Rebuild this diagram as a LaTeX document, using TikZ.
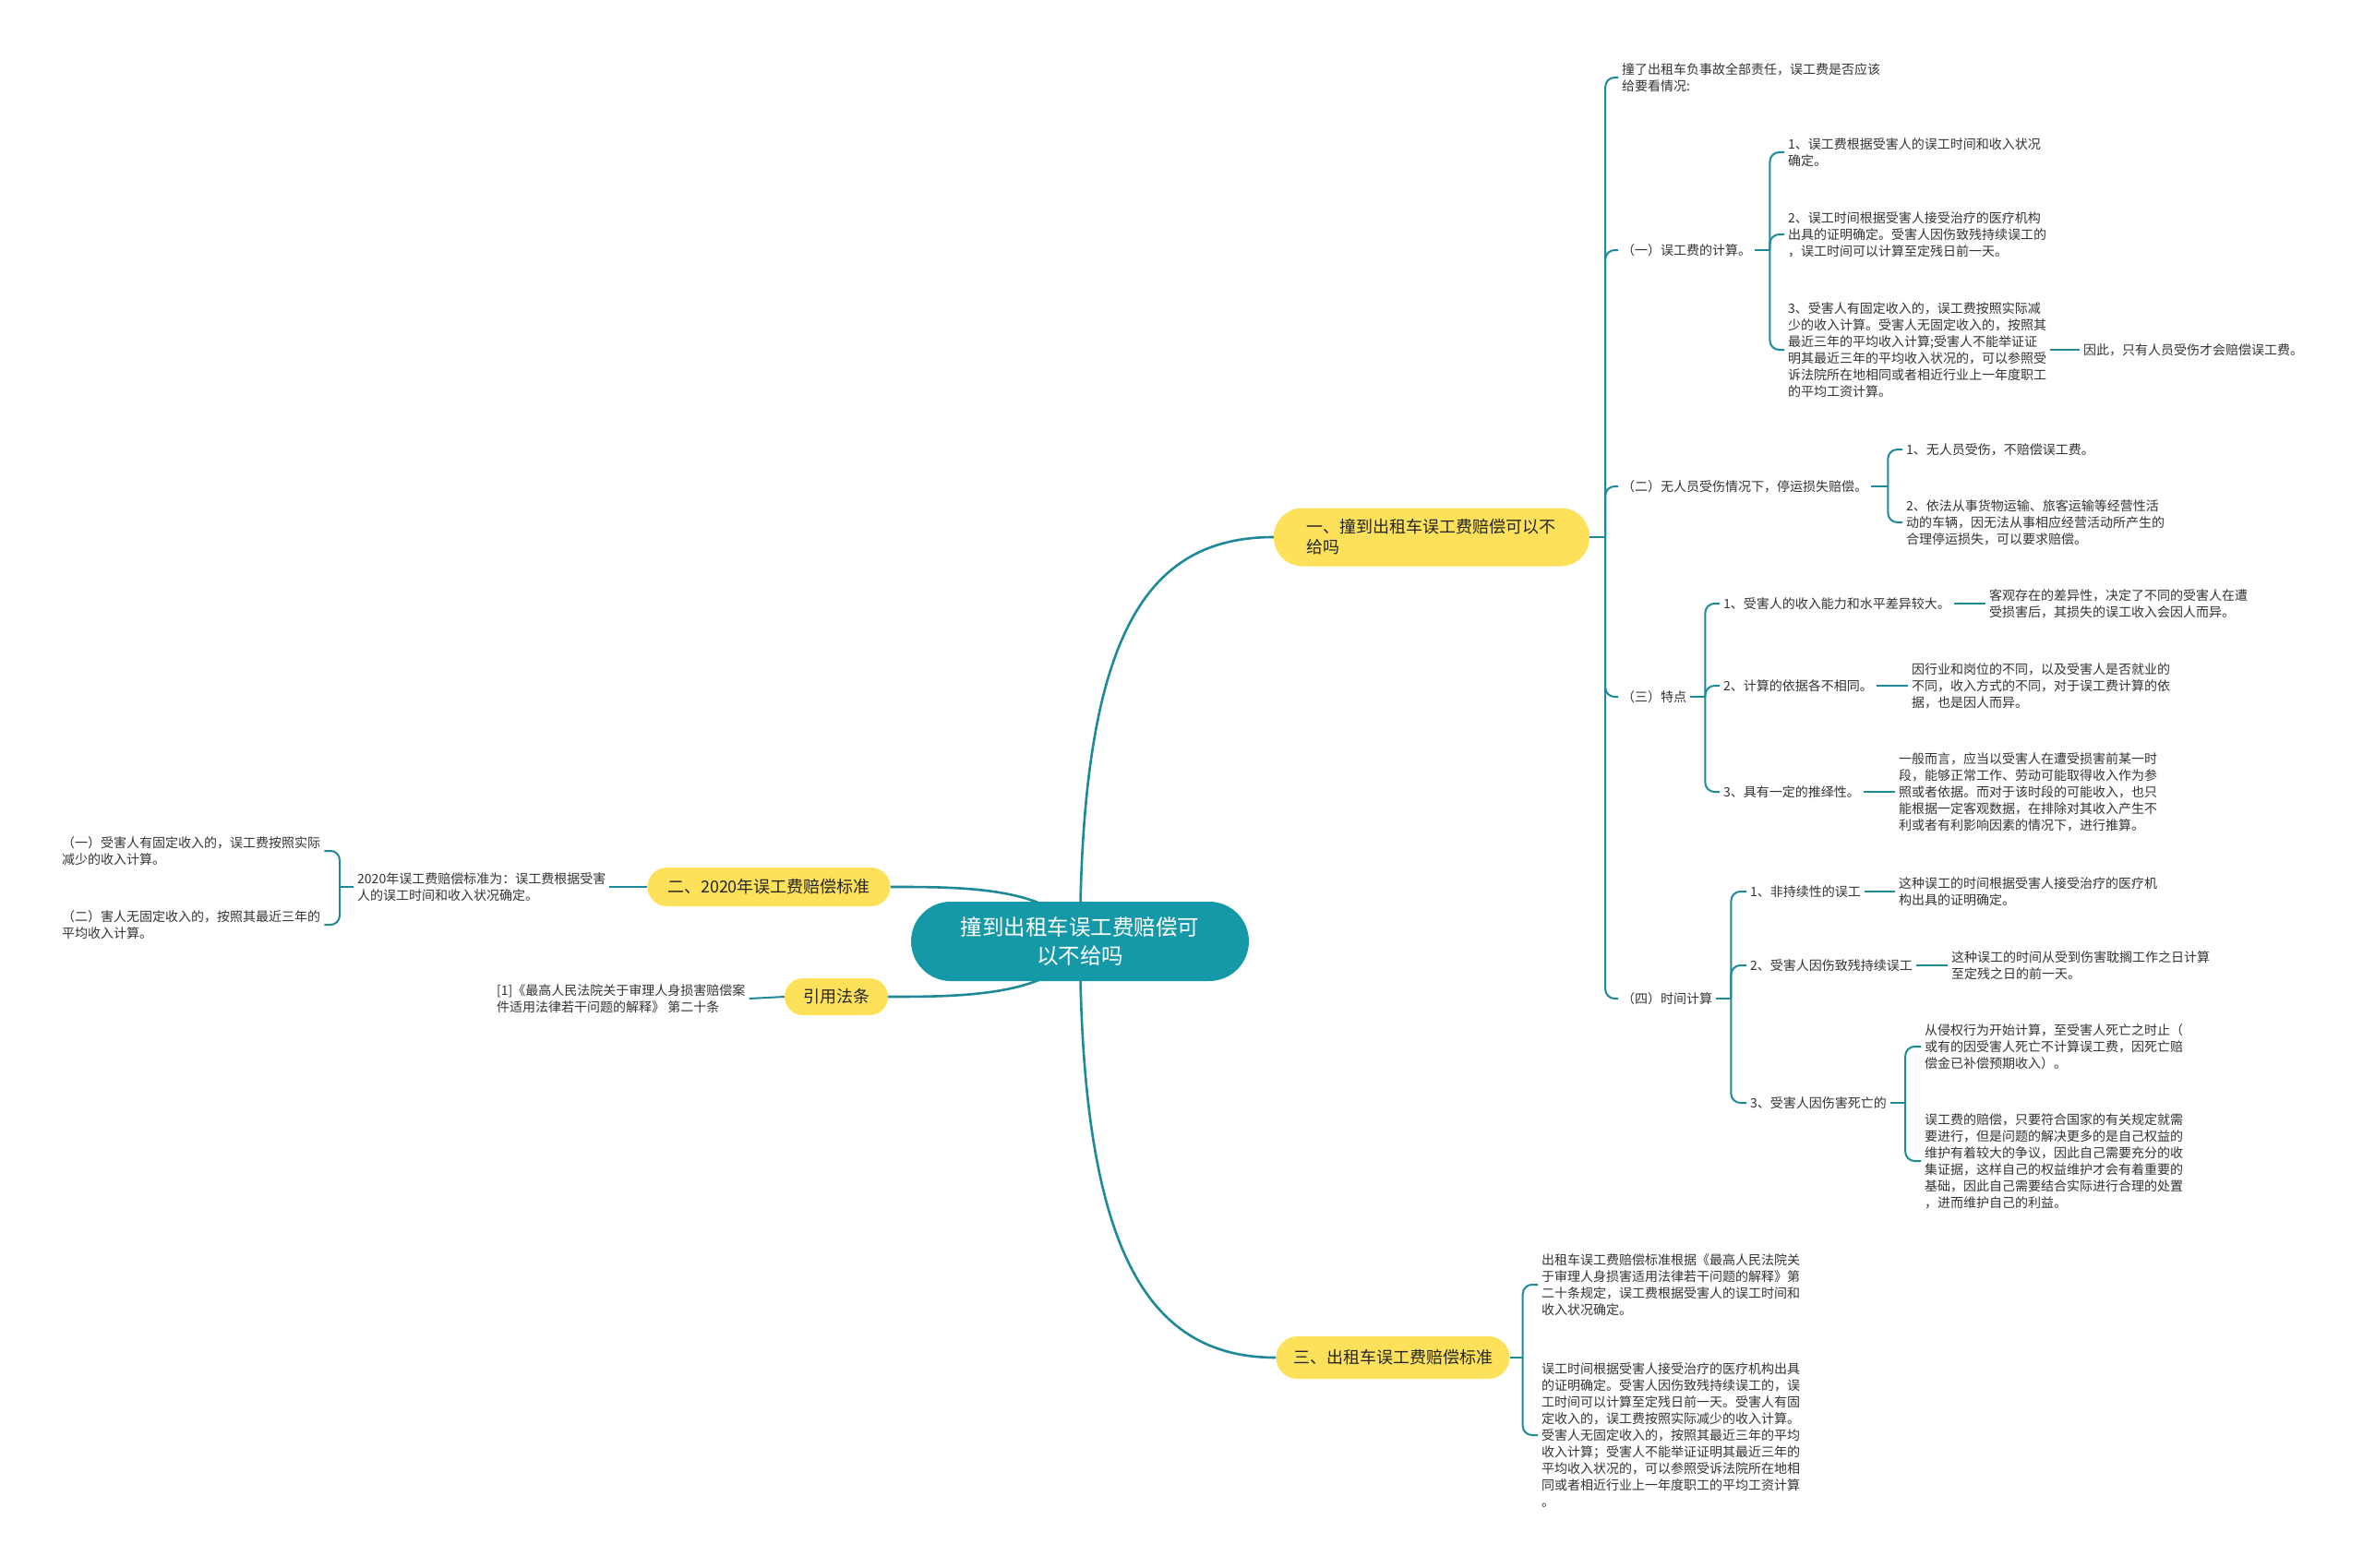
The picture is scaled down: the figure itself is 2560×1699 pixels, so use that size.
\documentclass[tikz,border=0pt]{standalone}
\usepackage{fontspec}
\setmainfont{Noto Sans CJK SC}
\usetikzlibrary{calc,backgrounds}
\definecolor{tealC}{RGB}{21,153,168}
\definecolor{lineC}{RGB}{30,137,152}
\definecolor{yelC}{RGB}{253,225,91}
\definecolor{txtC}{RGB}{51,51,51}
\begin{document}
\begin{tikzpicture}[x=1pt,y=-1pt,
  txt/.style={font=\fontsize{14}{18}\selectfont,text=txtC,align=left,inner xsep=4pt,inner ysep=2pt},
  tw/.style={txt,anchor=west},
  conn/.style={draw=lineC,line width=2pt,rounded corners=10pt},
  mainline/.style={draw=lineC,line width=2.6pt},
  topic/.style={fill=yelC,text=black!85,font=\fontsize{18}{22}\selectfont,inner sep=0pt},
]
\useasboundingbox (0,0) rectangle (2560,1699);

% central topic
\node[fill=tealC,text=white,font=\fontsize{23.5}{31}\selectfont,align=center,
  minimum width=366pt,minimum height=86pt,rounded corners=43pt,inner sep=0pt] (c) at (1170,1020)
  {撞到出租车误工费赔偿可\\以不给吗};

% main topics
\node[topic,align=left,text width=272pt,inner xsep=35pt,minimum height=63pt,rounded corners=31pt] (n1) at (1551,582)
  {一、撞到出租车误工费赔偿可以不\\给吗};
\node[topic,minimum width=263pt,minimum height=42pt,rounded corners=21pt] (n2) at (833,961)
  {二、2020年误工费赔偿标准};
\node[topic,minimum width=112pt,minimum height=40pt,rounded corners=20pt] (n4) at (906,1080)
  {引用法条};
\node[topic,minimum width=253pt,minimum height=46pt,rounded corners=23pt] (n3) at (1509,1471)
  {三、出租车误工费赔偿标准};

% ---- branch 一
\node[tw] (a0) at (1753,84) {撞了出租车负事故全部责任，误工费是否应该\\给要看情况:};
\node[tw] (a1) at (1753,271) {（一）误工费的计算。};
\node[tw] (a11) at (1933,165) {1、误工费根据受害人的误工时间和收入状况\\确定。};
\node[tw] (a12) at (1933,254) {2、误工时间根据受害人接受治疗的医疗机构\\出具的证明确定。受害人因伤致残持续误工的\\，误工时间可以计算至定残日前一天。};
\node[tw] (a13) at (1933,379) {3、受害人有固定收入的，误工费按照实际减\\少的收入计算。受害人无固定收入的，按照其\\最近三年的平均收入计算;受害人不能举证证\\明其最近三年的平均收入状况的，可以参照受\\诉法院所在地相同或者相近行业上一年度职工\\的平均工资计算。};
\node[tw] (a131) at (2253,379) {因此，只有人员受伤才会赔偿误工费。};
\node[tw] (a2) at (1753,527) {（二）无人员受伤情况下，停运损失赔偿。};
\node[tw] (a21) at (2061,487) {1、无人员受伤，不赔偿误工费。};
\node[tw] (a22) at (2061,566) {2、依法从事货物运输、旅客运输等经营性活\\动的车辆，因无法从事相应经营活动所产生的\\合理停运损失，可以要求赔偿。};
\node[tw] (a3) at (1753,755) {（三）特点};
\node[tw] (a31) at (1863,654) {1、受害人的收入能力和水平差异较大。};
\node[tw] (a311) at (2151,654) {客观存在的差异性，决定了不同的受害人在遭\\受损害后，其损失的误工收入会因人而异。};
\node[tw] (a32) at (1863,743) {2、计算的依据各不相同。};
\node[tw] (a321) at (2067,743) {因行业和岗位的不同，以及受害人是否就业的\\不同，收入方式的不同，对于误工费计算的依\\据，也是因人而异。};
\node[tw] (a33) at (1863,858) {3、具有一定的推绎性。};
\node[tw] (a331) at (2053,858) {一般而言，应当以受害人在遭受损害前某一时\\段，能够正常工作、劳动可能取得收入作为参\\照或者依据。而对于该时段的可能收入，也只\\能根据一定客观数据，在排除对其收入产生不\\利或者有利影响因素的情况下，进行推算。};
\node[tw] (a4) at (1753,1082) {（四）时间计算};
\node[tw] (a41) at (1892,966) {1、非持续性的误工};
\node[tw] (a411) at (2053,966) {这种误工的时间根据受害人接受治疗的医疗机\\构出具的证明确定。};
\node[tw] (a42) at (1892,1046) {2、受害人因伤致残持续误工};
\node[tw] (a421) at (2110,1046) {这种误工的时间从受到伤害耽搁工作之日计算\\至定残之日的前一天。};
\node[tw] (a43) at (1892,1195) {3、受害人因伤害死亡的};
\node[tw] (a431) at (2081,1134) {从侵权行为开始计算，至受害人死亡之时止（\\或有的因受害人死亡不计算误工费，因死亡赔\\偿金已补偿预期收入）。};
\node[tw] (a432) at (2081,1258) {误工费的赔偿，只要符合国家的有关规定就需\\要进行，但是问题的解决更多的是自己权益的\\维护有着较大的争议，因此自己需要充分的收\\集证据，这样自己的权益维护才会有着重要的\\基础，因此自己需要结合实际进行合理的处置\\，进而维护自己的利益。};

% ---- branch 三
\node[tw] (b1) at (1666,1392) {出租车误工费赔偿标准根据《最高人民法院关\\于审理人身损害适用法律若干问题的解释》第\\二十条规定，误工费根据受害人的误工时间和\\收入状况确定。};
\node[tw] (b2) at (1666,1555) {误工时间根据受害人接受治疗的医疗机构出具\\的证明确定。受害人因伤致残持续误工的，误\\工时间可以计算至定残日前一天。受害人有固\\定收入的，误工费按照实际减少的收入计算。\\受害人无固定收入的，按照其最近三年的平均\\收入计算；受害人不能举证证明其最近三年的\\平均收入状况的，可以参照受诉法院所在地相\\同或者相近行业上一年度职工的平均工资计算\\。};

% ---- branch 二 (left)
\node[tw] (l0) at (383,961) {2020年误工费赔偿标准为：误工费根据受害\\人的误工时间和收入状况确定。};
\node[tw] (l1) at (63,922) {（一）受害人有固定收入的，误工费按照实际\\减少的收入计算。};
\node[tw] (l2) at (63,1002) {（二）害人无固定收入的，按照其最近三年的\\平均收入计算。};

% ---- 引用法条
\node[tw] (r1) at (534,1082) {[1]《最高人民法院关于审理人身损害赔偿案\\件适用法律若干问题的解释》 第二十条};

% bracket points
\coordinate (n1b) at ($(n1.east)+(17,0)$);
\coordinate (a1b) at ($(a1.east)+(16,0)$);
\coordinate (a2b) at ($(a2.east)+(18,0)$);
\coordinate (a3b) at ($(a3.east)+(16,0)$);
\coordinate (a4b) at ($(a4.east)+(16,0)$);
\coordinate (a43b) at ($(a43.east)+(16,0)$);
\coordinate (n3b) at ($(n3.east)+(14,0)$);
\coordinate (l0b) at ($(l0.west)+(-15,0)$);

\begin{scope}[on background layer]
  \fill[white] (0,0) rectangle (2560,1699);
  % main curves
  \draw[mainline] (c.center) .. controls (1171,690) and (1240,582) .. (n1.west);
  \draw[mainline] (c.center) .. controls (1171,1350) and (1240,1471) .. (n3.west);
  \draw[mainline] (c.center) .. controls (1150,960) and (1040,961) .. (n2.east);
  \draw[mainline] (c.center) .. controls (1150,1080) and (1040,1080) .. (n4.east);
\end{scope}

% branch 一 connectors
\draw[conn] (n1.east) -- (n1b);
\draw[conn] (n1b) |- (a0.west);
\draw[conn] (n1b) |- (a1.west);
\draw[conn] (n1b) |- (a2.west);
\draw[conn] (n1b) |- (a3.west);
\draw[conn] (n1b) |- (a4.west);

\draw[conn] (a1.east) -- (a1b);
\draw[conn] (a1b) |- (a11.west);
\draw[conn] (a1b) |- (a12.west);
\draw[conn] (a1b) |- (a13.west);
\draw[conn] (a13.east) -- (a131.west);

\draw[conn] (a2.east) -- (a2b);
\draw[conn] (a2b) |- (a21.west);
\draw[conn] (a2b) |- (a22.west);

\draw[conn] (a3.east) -- (a3b);
\draw[conn] (a3b) |- (a31.west);
\draw[conn] (a3b) |- (a32.west);
\draw[conn] (a3b) |- (a33.west);
\draw[conn] (a31.east) -- (a311.west);
\draw[conn] (a32.east) -- (a321.west);
\draw[conn] (a33.east) -- (a331.west);

\draw[conn] (a4.east) -- (a4b);
\draw[conn] (a4b) |- (a41.west);
\draw[conn] (a4b) |- (a42.west);
\draw[conn] (a4b) |- (a43.west);
\draw[conn] (a41.east) -- (a411.west);
\draw[conn] (a42.east) -- (a421.west);
\draw[conn] (a43.east) -- (a43b);
\draw[conn] (a43b) |- (a431.west);
\draw[conn] (a43b) |- (a432.west);

% branch 三
\draw[conn] (n3.east) -- (n3b);
\draw[conn] (n3b) |- (b1.west);
\draw[conn] (n3b) |- (b2.west);

% branch 二
\draw[conn] (n2.west) -- (l0.east);
\draw[conn] (l0.west) -- (l0b);
\draw[conn] (l0b) |- (l1.east);
\draw[conn] (l0b) |- (l2.east);

% 引用法条
\draw[conn] (n4.west) -- (r1.east);
\end{tikzpicture}
\end{document}
